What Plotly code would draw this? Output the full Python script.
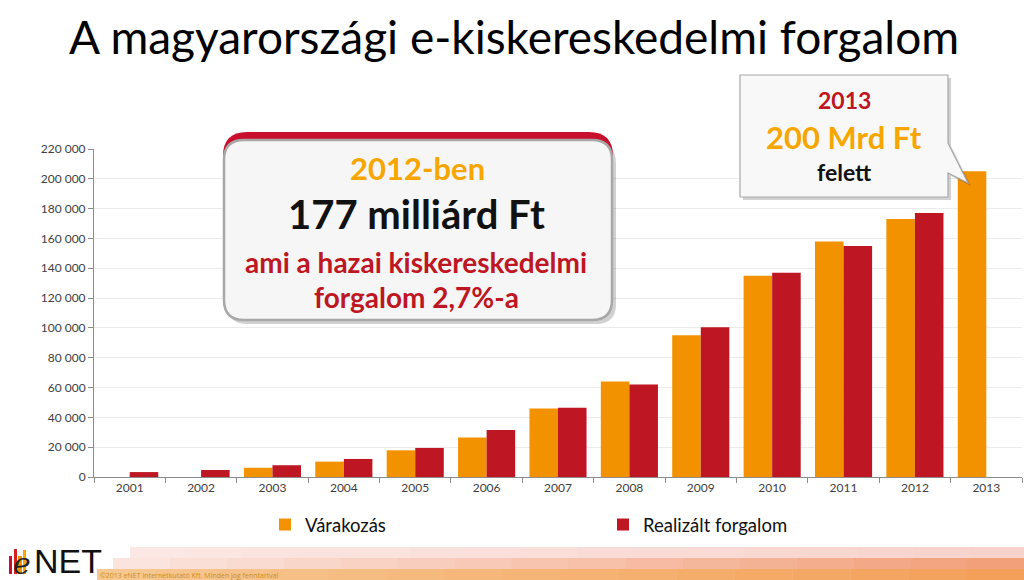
import plotly.graph_objects as go

years = ['2001', '2002', '2003', '2004', '2005', '2006', '2007',
         '2008', '2009', '2010', '2011', '2012', '2013']
expected = [None, None, 6200, 10300, 17900, 26500, 46000,
            64000, 95000, 135000, 158000, 173000, 205000]
realized = [3300, 4700, 7900, 12100, 19500, 31500, 46500,
            62000, 100500, 137000, 155000, 177000, None]
series_names = ['Várakozás', 'Realizált forgalom']
y_ticks = list(range(0, 220001, 20000))

ORANGE = '#F39200'
RED = '#BE1622'
FONT = 'Lato'

# plot area in pixels
L, R, T, B = 94, 1022, 149, 477
W, H = R - L, B - T


def X(px):
    return (px - L) / W


def Y(py):
    return (B - py) / H


def rrect(x0, y0, x1, y1, r):
    pts = [('M', x0 + r, y0), ('L', x1 - r, y0), ('Q', x1, y0, x1, y0 + r),
           ('L', x1, y1 - r), ('Q', x1, y1, x1 - r, y1), ('L', x0 + r, y1),
           ('Q', x0, y1, x0, y1 - r), ('L', x0, y0 + r), ('Q', x0, y0, x0 + r, y0)]
    out = []
    for p in pts:
        cmd = p[0]
        coords = p[1:]
        s = []
        for i in range(0, len(coords), 2):
            s.append(f'{X(coords[i]):.5f},{Y(coords[i+1]):.5f}')
        out.append(cmd + ' '.join(s))
    return ' '.join(out) + ' Z'


def poly(points):
    return 'M' + ' L'.join(f'{X(a):.5f},{Y(b):.5f}' for a, b in points) + ' Z'


fig = go.Figure()
fig.add_trace(go.Bar(x=years, y=expected, name=series_names[0],
                     marker=dict(color=ORANGE, line=dict(width=0))))
fig.add_trace(go.Bar(x=years, y=realized, name=series_names[1],
                     marker=dict(color=RED, line=dict(width=0))))

shapes = []
annotations = []

# ---- Callout box 1 ----
shapes.append(dict(type='path', xref='paper', yref='paper', path=rrect(227, 143, 616, 324, 20),
                   fillcolor='rgba(0,0,0,0.18)', line=dict(width=0), layer='above'))
shapes.append(dict(type='path', xref='paper', yref='paper', path=rrect(223, 132, 613, 200, 24),
                   fillcolor='#C8102E', line=dict(width=0), layer='above'))
shapes.append(dict(type='path', xref='paper', yref='paper', path=rrect(224, 140, 612, 320, 20),
                   fillcolor='#F6F6F6', line=dict(color='#A8A8A8', width=2.5), layer='above'))

annotations += [
    dict(text='<b>2012-ben</b>', x=X(417), y=Y(168), font=dict(size=31, color='#F7A600', family=FONT)),
    dict(text='<b>177 milliárd Ft</b>', x=X(416), y=Y(214), font=dict(size=40, color='#111111', family=FONT)),
    dict(text='<b>ami a hazai kiskereskedelmi</b>', x=X(416), y=Y(262), font=dict(size=28, color=RED, family=FONT)),
    dict(text='<b>forgalom 2,7%-a</b>', x=X(416), y=Y(297), font=dict(size=28, color=RED, family=FONT)),
]

# ---- Callout box 2 ----
tail = [(740, 75), (948, 75), (948, 143), (968, 183), (948, 173), (948, 197), (740, 197)]
shapes.append(dict(type='path', xref='paper', yref='paper',
                   path=poly([(a + 3, b + 3) for a, b in tail]),
                   fillcolor='rgba(0,0,0,0.18)', line=dict(width=0), layer='above'))
shapes.append(dict(type='path', xref='paper', yref='paper', path=poly(tail),
                   fillcolor='#F8F8F8', line=dict(color='#A8A8A8', width=1.2), layer='above'))
annotations += [
    dict(text='<b>2013</b>', x=X(844), y=Y(100), font=dict(size=23, color=RED, family=FONT)),
    dict(text='<b>200 Mrd Ft</b>', x=X(844), y=Y(137), font=dict(size=31, color='#F7A600', family=FONT)),
    dict(text='<b>felett</b>', x=X(844), y=Y(172), font=dict(size=23, color='#111111', family=FONT)),
]

# ---- Title ----
annotations.append(dict(text='A magyarországi e-kiskereskedelmi forgalom', x=X(514), y=Y(37),
                        font=dict(size=46, color='#000000', family=FONT)))


# ---- Footer bands ----
def hexmix(c1, c2, t):
    a = [int(c1[i:i + 2], 16) for i in (1, 3, 5)]
    b = [int(c2[i:i + 2], 16) for i in (1, 3, 5)]
    return '#' + ''.join(f'{round(a[k] + (b[k] - a[k]) * t):02X}' for k in range(3))


bands = [
    (130, 547, 558, '#FBE7E3', '#F8D3CC'),
    (113, 558, 569, '#FBE4DE', '#F2A07A'),
    (97, 569, 581, '#F6C790', '#F4A05A'),
]
nseg = 16
for x0, y0, y1, c1, c2 in bands:
    seg = (1024 - x0) / nseg
    for i in range(nseg):
        shapes.append(dict(type='rect', xref='paper', yref='paper',
                           x0=X(x0 + i * seg), x1=X(x0 + (i + 1) * seg + 0.5),
                           y0=Y(y1), y1=Y(y0),
                           fillcolor=hexmix(c1, c2, i / (nseg - 1)), line=dict(width=0), layer='below'))

annotations.append(dict(text='©2013 eNET Internetkutató Kft. Minden jog fenntartva!', x=X(98), y=Y(575),
                        xanchor='left', font=dict(size=7, color='#C98F1A', family='Open Sans')))

# ---- eNET logo ----
for x0, y0, x1, y1, c in [(9, 556, 12, 574, '#C8102E'), (14, 549, 17, 574, '#D8201E'),
                          (18, 556, 22, 574, '#F39200'), (23, 550, 26, 574, '#F7A600')]:
    shapes.append(dict(type='rect', xref='paper', yref='paper', x0=X(x0), x1=X(x1), y0=Y(y1), y1=Y(y0),
                       fillcolor=c, line=dict(width=0), layer='above'))
annotations.append(dict(text='<i>e</i>', x=X(11), y=Y(563), xanchor='left',
                        font=dict(size=30, color='#222222', family='DejaVu Serif')))
annotations.append(dict(text='NET', x=X(32), y=Y(561), xanchor='left',
                        font=dict(size=34, color='#111111', family='Liberation Sans Narrow, Liberation Sans')))

for a in annotations:
    a.setdefault('xref', 'paper')
    a.setdefault('yref', 'paper')
    a.setdefault('showarrow', False)
    a.setdefault('xanchor', 'center')
    a.setdefault('yanchor', 'middle')

fig.update_layout(
    width=1024, height=580,
    margin=dict(l=L, r=1024 - R, t=T, b=580 - B, pad=0, autoexpand=False),
    paper_bgcolor='white', plot_bgcolor='white',
    barmode='group', bargap=0.2, bargroupgap=0,
    separators=', ',
    font=dict(family=FONT, size=12, color='#404040'),
    showlegend=True,
    legend=dict(orientation='h', x=X(265), y=Y(525), xanchor='left', yanchor='middle',
                font=dict(size=18.5, color='#111111', family=FONT),
                entrywidth=293, entrywidthmode='pixels', itemwidth=30,
                bgcolor='rgba(0,0,0,0)'),
    shapes=shapes,
    annotations=annotations,
)
fig.update_xaxes(type='category', tickson='boundaries', ticks='outside', ticklen=5,
                 tickcolor='#8C8C8C', showline=True, linecolor='#8C8C8C', linewidth=1,
                 showgrid=False, tickfont=dict(size=12, color='#404040'))
fig.update_yaxes(range=[0, 220000], tickvals=y_ticks, tickformat=',d', ticks='outside', ticklen=5,
                 tickcolor='#8C8C8C', showline=True, linecolor='#8C8C8C', linewidth=1,
                 gridcolor='#EBEBEB', gridwidth=1, zeroline=False,
                 tickfont=dict(size=12, color='#404040'))

fig.write_html('out.html')
